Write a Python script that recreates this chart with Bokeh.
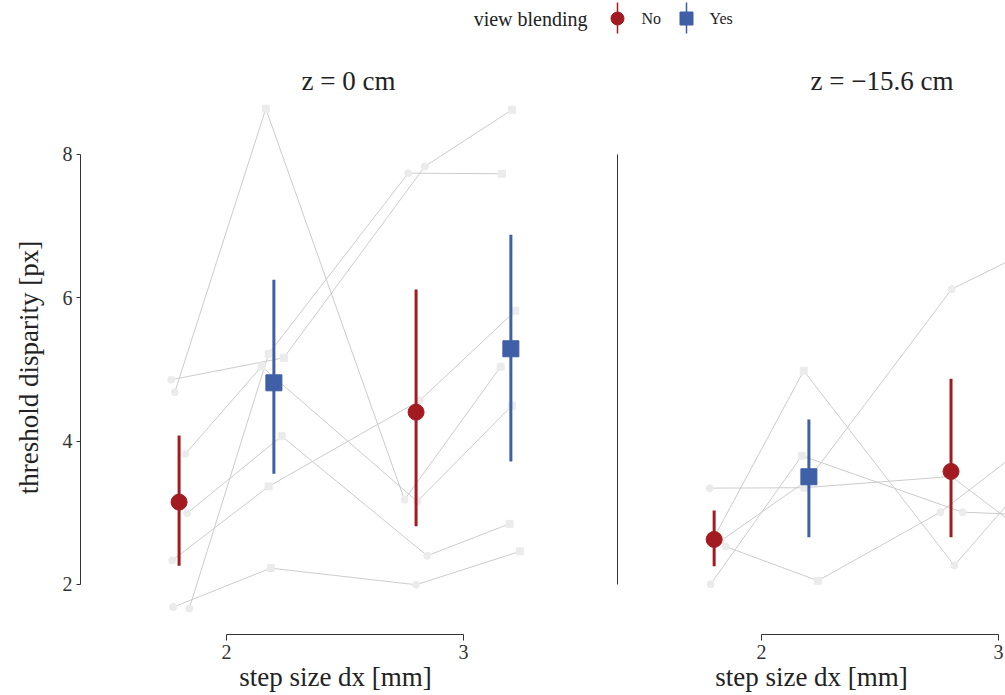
from bokeh.plotting import figure
from bokeh.layouts import column, row
from bokeh.models import Range1d, FixedTicker
from bokeh.core.properties import value
from bokeh.embed import file_html
from bokeh.resources import INLINE

# ---------------- data ----------------
view_blending = ["No", "Yes"]
step_size = [2, 3]
y_ticks = [2, 4, 6, 8]
panel_titles = ["z = 0 cm", "z = \u221215.6 cm"]

# the four cells, in plotting order
cell_cond = ["No", "Yes", "No", "Yes"]
cell_step = [2, 2, 3, 3]

# panel z = 0 cm : per participant, jittered x and threshold for the 4 cells
z0_subj_x = [
    [1.767, 2.242, 2.837, 3.205],
    [1.843, 2.178, 2.767, 3.162],
    [1.827, 2.148, 2.805, 3.204],
    [1.782, 2.166, 2.751, 3.157],
    [1.834, 2.233, 2.847, 3.195],
    [1.771, 2.178, 2.816, 3.219],
    [1.775, 2.187, 2.800, 3.238],
]
z0_subj_y = [
    [4.857, 5.163, 7.833, 8.624],
    [1.665, 5.219, 7.739, 7.731],
    [3.824, 5.042, 3.158, 4.494],
    [4.683, 8.638, 3.182, 5.038],
    [2.995, 4.069, 2.401, 2.847],
    [2.335, 3.368, 4.568, 5.819],
    [1.684, 2.228, 1.996, 2.461],
]
z0_mean = [3.149, 4.814, 4.404, 5.289]
z0_lo = [2.261, 3.545, 2.814, 3.716]
z0_hi = [4.079, 6.252, 6.116, 6.880]

# panel z = -15.6 cm
z156_subj_x = [
    [1.781, 2.181, 2.802, 3.180],
    [1.785, 2.170, 2.849, 3.220],
    [1.848, 2.238, 2.755, 3.160],
    [1.802, 2.178, 2.814, 3.240],
    [1.830, 2.198, 2.803, 3.200],
]
z156_subj_y = [
    [3.344, 3.350, 3.507, 2.558],
    [2.004, 3.796, 3.009, 2.960],
    [2.530, 2.052, 3.009, 4.037],
    [2.670, 4.982, 2.265, 3.885],
    [2.614, 3.465, 6.121, 6.768],
]
z156_mean = [2.628, 3.503, 3.577, 4.040]
z156_lo = [2.256, 2.660, 2.660, 3.000]
z156_hi = [3.033, 4.302, 4.870, 5.100]

# ---------------- style ----------------
FONT = "Liberation Serif"
COLORS = {"No": "#A31B21", "Yes": "#3F5FA6"}
MARKERS = {"No": "circle", "Yes": "square"}
DODGE = {"No": -0.2, "Yes": 0.2}
TXT = "#222222"
TICK_TXT = "#333333"

Y_RANGE = (1.302, 8.753)
FIG_H = 650


def make_panel(title, subj_x, subj_y, mean, lo, hi, width, x_range, border_left,
               title_offset, first):
    p = figure(width=width, height=FIG_H, x_range=Range1d(*x_range),
               y_range=Range1d(*Y_RANGE), output_backend="svg",
               toolbar_location=None, min_border_left=border_left,
               min_border_right=0, min_border_top=55, min_border_bottom=61,
               outline_line_color=None, title=title)
    p.title.align = "left"
    p.title.offset = title_offset
    p.title.text_font = FONT
    p.title.text_font_size = "27px"
    p.title.text_font_style = "normal"
    p.title.text_color = TXT
    p.title.standoff = 10
    p.xgrid.visible = False
    p.ygrid.visible = False

    # participant lines and points
    p.multi_line(xs=subj_x, ys=subj_y, line_color="#cccccc", line_width=1)
    for i, cond in enumerate(cell_cond):
        p.scatter(x=[s[i] for s in subj_x], y=[s[i] for s in subj_y],
                  marker=MARKERS[cond], size=7, fill_color="#ebebeb",
                  line_color="#ebebeb")

    # means with intervals
    mx = [st + DODGE[c] for st, c in zip(cell_step, cell_cond)]
    cols = [COLORS[c] for c in cell_cond]
    p.segment(x0=mx, y0=lo, x1=mx, y1=hi, line_color=cols, line_width=3)
    for i, cond in enumerate(cell_cond):
        p.scatter(x=[mx[i]], y=[mean[i]], marker=MARKERS[cond], size=16,
                  fill_color=COLORS[cond], line_color=COLORS[cond])

    # axes (range-frame style)
    xa = p.xaxis[0]
    xa.ticker = FixedTicker(ticks=step_size)
    xa.bounds = (min(step_size), max(step_size))
    xa.axis_label = "step size dx [mm]"
    xa.axis_label_text_font = FONT
    xa.axis_label_text_font_size = "27px"
    xa.axis_label_text_font_style = "normal"
    xa.axis_label_text_color = TXT
    xa.axis_label_standoff = 0
    xa.major_label_text_font = FONT
    xa.major_label_text_font_size = "20px"
    xa.major_label_text_color = TICK_TXT
    xa.major_label_standoff = 4
    xa.major_tick_out = 6
    xa.major_tick_in = 0
    xa.minor_tick_out = 0
    xa.minor_tick_in = 0
    xa.axis_line_color = "#333333"
    xa.major_tick_line_color = "#333333"

    ya = p.yaxis[0]
    ya.bounds = (min(y_ticks), max(y_ticks))
    ya.minor_tick_out = 0
    ya.minor_tick_in = 0
    ya.major_tick_in = 0
    ya.axis_line_color = "#333333"
    ya.major_tick_line_color = "#333333"
    if first:
        ya.ticker = FixedTicker(ticks=y_ticks)
        ya.axis_label = "threshold disparity [px]"
        ya.axis_label_text_font = FONT
        ya.axis_label_text_font_size = "27px"
        ya.axis_label_text_font_style = "normal"
        ya.axis_label_text_color = TXT
        ya.axis_label_standoff = 16
        ya.major_label_text_font = FONT
        ya.major_label_text_font_size = "20px"
        ya.major_label_text_color = TICK_TXT
        ya.major_label_standoff = 4
        ya.major_tick_out = 4
    else:
        ya.ticker = FixedTicker(ticks=[])
        ya.major_label_standoff = 0
        ya.major_tick_out = 0
    return p


p1 = make_panel(panel_titles[0], z0_subj_x, z0_subj_y, z0_mean, z0_lo, z0_hi,
                width=590, x_range=(1.384, 3.536), border_left=80,
                title_offset=221, first=True)
p2 = make_panel(panel_titles[1], z156_subj_x, z156_subj_y, z156_mean, z156_lo,
                z156_hi, width=415, x_range=(1.392, 3.030), border_left=27,
                title_offset=193, first=False)

# ---------------- legend strip ----------------
leg = figure(width=1005, height=45, x_range=Range1d(0, 1005), y_range=Range1d(45, 0),
             x_axis_type=None, y_axis_type=None, output_backend="svg",
             toolbar_location=None, min_border=0, min_border_left=0,
             min_border_right=0, min_border_top=0, min_border_bottom=0,
             outline_line_color=None)
key_x = [617, 686]
label_x = [641, 709]
key_cols = [COLORS[c] for c in view_blending]
leg.text(x=[587], y=[18], text=["view blending"], text_align="right",
         text_baseline="middle", text_font=value(FONT), text_font_size="20px",
         text_color=TXT)
leg.segment(x0=key_x, y0=[2, 2], x1=key_x, y1=[33, 33], line_color=key_cols,
            line_width=1.5)
for kx, c in zip(key_x, view_blending):
    leg.scatter(x=[kx], y=[18], marker=MARKERS[c], size=13, fill_color=COLORS[c],
                line_color=COLORS[c])
leg.text(x=label_x, y=[18, 18], text=view_blending, text_align="left",
         text_baseline="middle", text_font=value(FONT), text_font_size="16px",
         text_color=TXT)

layout = column(leg, row(p1, p2))
open("out.html", "w").write(file_html(layout, INLINE))
